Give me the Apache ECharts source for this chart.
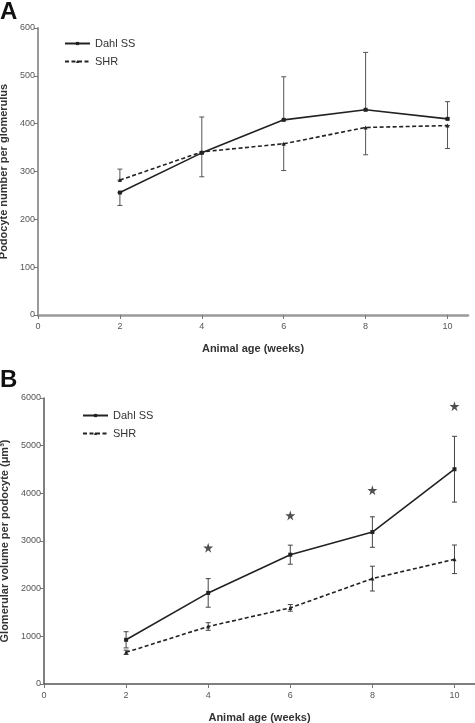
<!DOCTYPE html>
<html>
<head>
<meta charset="utf-8">
<script src="https://cdn.jsdelivr.net/npm/echarts@6/dist/echarts.min.js"></script>
<style>
html,body{margin:0;padding:0;background:#fff;}
#chart{width:475px;height:723px;}
</style>
</head>
<body>
<div id="chart"></div>
<script>
// ---- Data ----
var ages = [2, 4, 6, 8, 10];
var xTicks = [0, 2, 4, 6, 8, 10];

// Panel A: podocyte number per glomerulus
var podoDahl = [256, 339, 408, 429, 410];
var podoDahlErrLow = [229, 339, 408, 429, 410];
var podoDahlErrHigh = [256, 414, 498, 549, 446];
var podoShr = [282, 341, 358, 392, 396];
var podoShrErrLow = [282, 289, 302, 335, 348];
var podoShrErrHigh = [305, 341, 358, 392, 396];

// Panel B: glomerular volume per podocyte
var volDahl = [927, 1911, 2713, 3188, 4506];
var volDahlSd = [170, 300, 200, 320, 690];
var volShr = [665, 1206, 1597, 2211, 2616];
var volShrSd = [45, 80, 70, 260, 300];
var starAges = [4, 6, 8, 10];
var starValues = [2860, 3537, 4067, 5829];

var FONT = '"Liberation Sans", Arial, sans-serif';
var STAR = 'path://M50,0 L61,35 L98,35 L68,57 L79,91 L50,70 L21,91 L32,57 L2,35 L39,35 Z';

function pairs(xs, ys) { return xs.map(function (x, i) { return [x, ys[i]]; }); }
function errData(xs, lo, hi) { return xs.map(function (x, i) { return [x, lo[i], hi[i]]; }); }

function errSeries(data, xi, color) {
  return {
    type: 'custom', xAxisIndex: xi, yAxisIndex: xi, silent: true, z: 1,
    data: data,
    encode: { x: 0, y: [1, 2] },
    renderItem: function (params, api) {
      var x = api.value(0);
      var lo = api.coord([x, api.value(1)]);
      var hi = api.coord([x, api.value(2)]);
      var w = 2.5;
      var st = { stroke: color, lineWidth: 1 };
      return {
        type: 'group', children: [
          { type: 'line', shape: { x1: lo[0], y1: lo[1], x2: hi[0], y2: hi[1] }, style: st },
          { type: 'line', shape: { x1: lo[0] - w, y1: lo[1], x2: lo[0] + w, y2: lo[1] }, style: st },
          { type: 'line', shape: { x1: hi[0] - w, y1: hi[1], x2: hi[0] + w, y2: hi[1] }, style: st }
        ]
      };
    }
  };
}

function xAxis(gi, lineColor, lineWidth) {
  return {
    type: 'value', gridIndex: gi, min: 0, max: 10.5,
    name: 'Animal age (weeks)', nameLocation: 'middle', nameGap: 28,
    nameTextStyle: { fontFamily: FONT, fontSize: 11, fontWeight: 'bold', color: '#333' },
    axisLine: { show: true, onZero: false, lineStyle: { color: lineColor, width: lineWidth } },
    axisTick: { show: true, length: 4, customValues: xTicks, lineStyle: { color: '#777' } },
    axisLabel: { customValues: xTicks, fontFamily: FONT, fontSize: 9, color: '#555', margin: 7 },
    splitLine: { show: false }
  };
}

function yAxis(gi, max, interval, name, lineColor, lineWidth, gap) {
  return {
    type: 'value', gridIndex: gi, min: 0, max: max, interval: interval,
    name: name, nameLocation: 'middle', nameGap: gap,
    nameTextStyle: { fontFamily: FONT, fontSize: 11, fontWeight: 'bold', color: '#333' },
    axisLine: { show: true, lineStyle: { color: lineColor, width: lineWidth } },
    axisTick: { show: true, length: 4, lineStyle: { color: '#777' } },
    axisLabel: { fontFamily: FONT, fontSize: 9, color: '#555', margin: 3,
      formatter: function (v) { return String(v); } },
    splitLine: { show: false }
  };
}

function lineSeries(name, xi, data, dashed, symbol, size) {
  return {
    name: name, type: 'line', xAxisIndex: xi, yAxisIndex: xi, data: data, z: 3,
    symbol: symbol, symbolSize: size, showSymbol: true,
    lineStyle: { color: '#222', width: 1.6, type: dashed ? [4, 2.5] : 'solid' },
    itemStyle: { color: '#222' }
  };
}

var legendCommon = {
  orient: 'vertical', itemWidth: 25, itemHeight: 4, itemGap: 7,
  textStyle: { fontFamily: FONT, fontSize: 11, color: '#333' }
};

var chart = echarts.init(document.getElementById('chart'), null, { renderer: 'canvas' });

var volDahlLo = volDahl.map(function (v, i) { return v - volDahlSd[i]; });
var volDahlHi = volDahl.map(function (v, i) { return v + volDahlSd[i]; });
var volShrLo = volShr.map(function (v, i) { return v - volShrSd[i]; });
var volShrHi = volShr.map(function (v, i) { return v + volShrSd[i]; });

chart.setOption({
  animation: false,
  backgroundColor: '#fff',
  textStyle: { fontFamily: FONT },
  grid: [
    { left: 38, top: 28, width: 430, height: 287, containLabel: false, outerBoundsMode: 'none' },
    { left: 44, top: 398, width: 431, height: 286, containLabel: false, outerBoundsMode: 'none' }
  ],
  graphic: [
    { type: 'text', left: 0, top: 0, style: { text: 'A', font: 'bold 24px ' + FONT, fill: '#111' } },
    { type: 'text', left: 0, top: 368, style: { text: 'B', font: 'bold 24px ' + FONT, fill: '#111' } }
  ],
  legend: [
    Object.assign({ left: 59, top: 33, data: [{ name: 'Dahl SS' }, { name: 'SHR' }] }, legendCommon),
    Object.assign({ left: 77, top: 405, data: [{ name: 'Dahl SS B' }, { name: 'SHR B' }],
      formatter: function (n) { return n.replace(' B', ''); } }, legendCommon)
  ],
  xAxis: [xAxis(0, '#999', 2.5), xAxis(1, '#555', 1.5)],
  yAxis: [
    yAxis(0, 600, 100, 'Podocyte number per glomerulus', '#999', 2, 26),
    yAxis(1, 6000, 1000, 'Glomerular volume per podocyte (μm³)', '#555', 1.5, 30)
  ],
  series: [
    errSeries(errData(ages, podoDahlErrLow, podoDahlErrHigh), 0, '#555'),
    errSeries(errData(ages, podoShrErrLow, podoShrErrHigh), 0, '#555'),
    lineSeries('Dahl SS', 0, pairs(ages, podoDahl), false, 'rect', 4),
    lineSeries('SHR', 0, pairs(ages, podoShr), true, 'triangle', 4),
    errSeries(errData(ages, volDahlLo, volDahlHi), 1, '#444'),
    errSeries(errData(ages, volShrLo, volShrHi), 1, '#444'),
    lineSeries('Dahl SS B', 1, pairs(ages, volDahl), false, 'rect', 4),
    lineSeries('SHR B', 1, pairs(ages, volShr), true, 'triangle', 4),
    {
      type: 'scatter', xAxisIndex: 1, yAxisIndex: 1, symbol: STAR, symbolSize: 10,
      itemStyle: { color: '#222' }, data: pairs(starAges, starValues), silent: true
    }
  ]
});
</script>
</body>
</html>
